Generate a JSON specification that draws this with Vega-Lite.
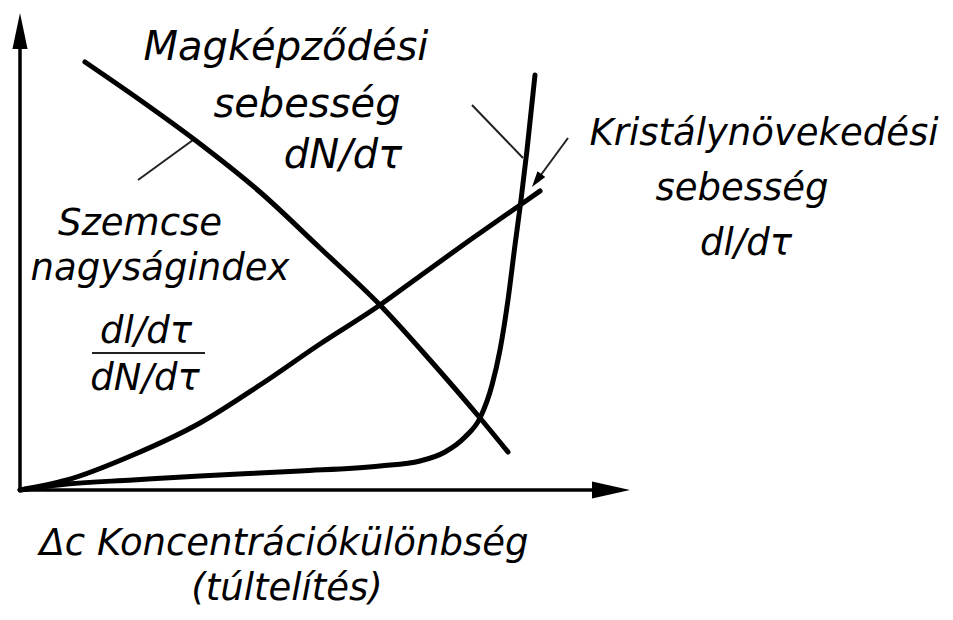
{
  "$schema": "https://vega.github.io/schema/vega-lite/v6.json",
  "width": 953,
  "height": 620,
  "autosize": {"type": "fit", "contains": "padding"},
  "padding": 0,
  "background": "white",
  "config": {"view": {"stroke": null}},
  "datasets": {
    "curves": [
      {"curve": "index", "x": 10.83, "y": 85.6},
      {"curve": "index", "x": 20, "y": 78},
      {"curve": "index", "x": 29.17, "y": 70},
      {"curve": "index", "x": 40, "y": 59.6},
      {"curve": "index", "x": 50, "y": 48.4},
      {"curve": "index", "x": 60, "y": 37},
      {"curve": "index", "x": 68.33, "y": 26},
      {"curve": "index", "x": 76.67, "y": 14.4},
      {"curve": "index", "x": 81.33, "y": 7.6},
      {"curve": "growth", "x": 0, "y": 0},
      {"curve": "growth", "x": 7.83, "y": 2},
      {"curve": "growth", "x": 18.83, "y": 7},
      {"curve": "growth", "x": 30, "y": 13.4},
      {"curve": "growth", "x": 40, "y": 21},
      {"curve": "growth", "x": 50, "y": 29.2},
      {"curve": "growth", "x": 60, "y": 37},
      {"curve": "growth", "x": 66.67, "y": 42.8},
      {"curve": "growth", "x": 75, "y": 50},
      {"curve": "growth", "x": 83.83, "y": 57.4},
      {"curve": "growth", "x": 86.67, "y": 59.8},
      {"curve": "nucleation", "x": 0, "y": 0},
      {"curve": "nucleation", "x": 7.83, "y": 1.2},
      {"curve": "nucleation", "x": 18.83, "y": 2},
      {"curve": "nucleation", "x": 30, "y": 2.8},
      {"curve": "nucleation", "x": 46.67, "y": 3.8},
      {"curve": "nucleation", "x": 60, "y": 4.8},
      {"curve": "nucleation", "x": 66.67, "y": 5.8},
      {"curve": "nucleation", "x": 70.83, "y": 7.6},
      {"curve": "nucleation", "x": 74.17, "y": 10.6},
      {"curve": "nucleation", "x": 76.67, "y": 14.4},
      {"curve": "nucleation", "x": 78.67, "y": 21},
      {"curve": "nucleation", "x": 80, "y": 28},
      {"curve": "nucleation", "x": 81.33, "y": 38},
      {"curve": "nucleation", "x": 82.5, "y": 49},
      {"curve": "nucleation", "x": 83.5, "y": 58},
      {"curve": "nucleation", "x": 84.5, "y": 68},
      {"curve": "nucleation", "x": 85.83, "y": 83}
    ],
    "pointers": [
      {"id": "p1", "seq": 1, "x": 19.67, "y": 62},
      {"id": "p1", "seq": 2, "x": 28.83, "y": 70},
      {"id": "p2", "seq": 1, "x": 75.33, "y": 77},
      {"id": "p2", "seq": 2, "x": 83.83, "y": 66.4},
      {"id": "p3", "seq": 1, "x": 91.33, "y": 70.4},
      {"id": "p3", "seq": 2, "x": 86.2, "y": 62},
      {"id": "bar", "seq": 1, "x": 12, "y": 27.4},
      {"id": "bar", "seq": 2, "x": 30.83, "y": 27.4}
    ],
    "axes": [
      {"id": "yaxis", "seq": 1, "x": 0, "y": 0},
      {"id": "yaxis", "seq": 2, "x": 0, "y": 92},
      {"id": "xaxis", "seq": 1, "x": 0, "y": 0},
      {"id": "xaxis", "seq": 2, "x": 99.17, "y": 0}
    ],
    "tips": [
      {"tip": "yaxis", "x": 0, "y": 95.4},
      {"tip": "xaxis", "x": 101.67, "y": 0},
      {"tip": "kristaly", "x": 85.33, "y": 60.6}
    ],
    "labels_big": [
      {"label": "Magképződési", "x": 44.33, "y": 86},
      {"label": "sebesség", "x": 47.83, "y": 74.6},
      {"label": "dN/dτ", "x": 53.83, "y": 64.4}
    ],
    "labels": [
      {"label": "Kristálynövekedési", "x": 124, "y": 69},
      {"label": "sebesség", "x": 120.33, "y": 58},
      {"label": "dl/dτ", "x": 121, "y": 47},
      {"label": "Szemcse", "x": 20, "y": 51},
      {"label": "nagyságindex", "x": 23.33, "y": 42},
      {"label": "dl/dτ", "x": 21, "y": 29.4},
      {"label": "dN/dτ", "x": 20.83, "y": 20},
      {"label": "Δc  Koncentrációkülönbség", "x": 44, "y": -13},
      {"label": "(túltelítés)", "x": 44.5, "y": -22}
    ]
  },
  "encoding": {
    "x": {"field": "x", "type": "quantitative", "scale": {"domain": [-3.3333, 155.5], "nice": false, "zero": false}, "axis": null},
    "y": {"field": "y", "type": "quantitative", "scale": {"domain": [-26, 98], "nice": false, "zero": false}, "axis": null}
  },
  "layer": [
    {
      "data": {"name": "axes"},
      "mark": {"type": "line", "color": "black", "strokeWidth": 3.5},
      "encoding": {"detail": {"field": "id"}, "order": {"field": "seq"}}
    },
    {
      "data": {"name": "pointers"},
      "mark": {"type": "line", "color": "#222", "strokeWidth": 2},
      "encoding": {"detail": {"field": "id"}, "order": {"field": "seq"}}
    },
    {
      "data": {"name": "curves"},
      "mark": {"type": "line", "color": "black", "strokeWidth": 5, "interpolate": "monotone", "strokeCap": "round"},
      "encoding": {"detail": {"field": "curve"}}
    },
    {
      "data": {"name": "tips"},
      "transform": [{"filter": "datum.tip === 'yaxis'"}],
      "mark": {"type": "point", "filled": true, "color": "black", "opacity": 1, "shape": "M0,0L-0.42,2L0.42,2Z", "size": 1296, "angle": 0, "strokeWidth": 0}
    },
    {
      "data": {"name": "tips"},
      "transform": [{"filter": "datum.tip === 'xaxis'"}],
      "mark": {"type": "point", "filled": true, "color": "black", "opacity": 1, "shape": "M0,0L-0.45,2L0.45,2Z", "size": 1444, "angle": 90, "strokeWidth": 0}
    },
    {
      "data": {"name": "tips"},
      "transform": [{"filter": "datum.tip === 'kristaly'"}],
      "mark": {"type": "point", "filled": true, "color": "black", "opacity": 1, "shape": "M0,0L-0.6,2L0.6,2Z", "size": 256, "angle": 216, "strokeWidth": 0}
    },
    {
      "data": {"name": "labels_big"},
      "mark": {"type": "text", "font": "DejaVu Sans", "fontStyle": "italic", "fontWeight": 200, "fontSize": 40, "align": "center", "baseline": "alphabetic", "color": "black"},
      "encoding": {"text": {"field": "label"}}
    },
    {
      "data": {"name": "labels"},
      "mark": {"type": "text", "font": "DejaVu Sans", "fontStyle": "italic", "fontWeight": 200, "fontSize": 37, "align": "center", "baseline": "alphabetic", "color": "black"},
      "encoding": {"text": {"field": "label"}}
    }
  ]
}
